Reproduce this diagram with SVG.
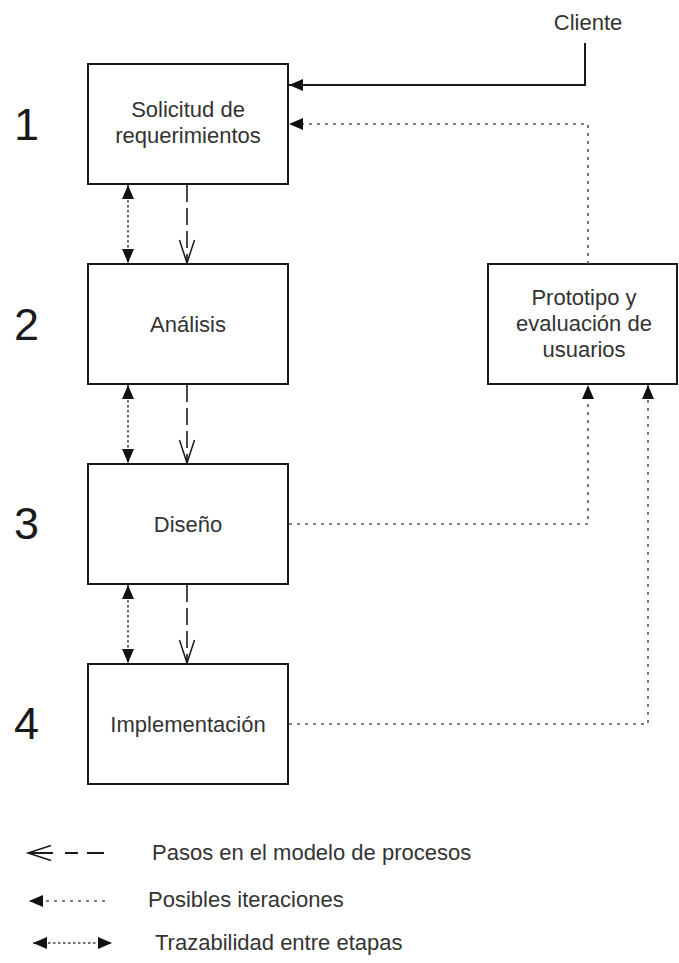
<svg xmlns="http://www.w3.org/2000/svg" width="679" height="963" viewBox="0 0 679 963">
  <style>
    .box { fill: #ffffff; stroke: #1a1a1a; stroke-width: 2; }
    .lbl { font-family: "Liberation Sans", Arial, sans-serif; font-size: 22px; fill: #333333; }
    .mid { text-anchor: middle; }
    .num { font-family: "Liberation Sans", Arial, sans-serif; font-size: 45px; fill: #1a1a1a; }
    .solid { fill: none; stroke: #1a1a1a; stroke-width: 2; }
    .iter { fill: none; stroke: #555555; stroke-width: 1.6; stroke-dasharray: 3 5; }
    .trace { fill: none; stroke: #444444; stroke-width: 1.6; stroke-dasharray: 2.5 2.5; }
    .dash { fill: none; stroke: #1a1a1a; stroke-width: 1.6; stroke-dasharray: 17 6; }
  </style>
  <defs>
    <marker id="tri" markerUnits="userSpaceOnUse" markerWidth="14" markerHeight="12" refX="14" refY="6" orient="auto-start-reverse" overflow="visible">
      <path d="M0,0 L14,6 L0,12 Z" fill="#111111"/>
    </marker>
    <marker id="vee" markerUnits="userSpaceOnUse" markerWidth="24" markerHeight="16" refX="23" refY="7.5" orient="auto-start-reverse" overflow="visible">
      <path d="M0,0 L23,7.5 L0,15" fill="none" stroke="#1a1a1a" stroke-width="1.5"/>
    </marker>
  </defs>

  <rect width="679" height="963" fill="#ffffff"/>

  <!-- stage numbers -->
  <g id="stage-numbers">
    <text class="num" x="14" y="140">1</text>
    <text class="num" x="14" y="340">2</text>
    <text class="num" x="14" y="539">3</text>
    <text class="num" x="14" y="739">4</text>
  </g>

  <g id="cliente">
    <text class="lbl mid" x="588" y="30">Cliente</text>
  </g>

  <g id="solicitud">
    <rect class="box" x="88" y="64" width="200" height="120"/>
    <text class="lbl mid" x="188" y="117">Solicitud de</text>
    <text class="lbl mid" x="188" y="143">requerimientos</text>
  </g>

  <g id="analisis">
    <rect class="box" x="88" y="264" width="200" height="120"/>
    <text class="lbl mid" x="188" y="332">Análisis</text>
  </g>

  <g id="diseno">
    <rect class="box" x="88" y="464" width="200" height="120"/>
    <text class="lbl mid" x="188" y="532">Diseño</text>
  </g>

  <g id="implementacion">
    <rect class="box" x="88" y="664" width="200" height="120"/>
    <text class="lbl mid" x="188" y="732">Implementación</text>
  </g>

  <g id="prototipo">
    <rect class="box" x="488" y="264" width="189" height="120"/>
    <text class="lbl mid" x="584" y="305">Prototipo y</text>
    <text class="lbl mid" x="584" y="331">evaluación de</text>
    <text class="lbl mid" x="584" y="357">usuarios</text>
  </g>

  <g id="connectors">
    <!-- client request -->
    <path class="solid" d="M585,43 V85 H289" marker-end="url(#tri)"/>
    <!-- prototype feedback to requirements -->
    <path class="iter" d="M588,264 V124 H289" marker-end="url(#tri)"/>
    <!-- design and implementation feed the prototype -->
    <path class="iter" d="M289,524 H588 V385" marker-end="url(#tri)"/>
    <path class="iter" d="M289,724 H648 V385" marker-end="url(#tri)"/>
    <!-- traceability between stages -->
    <path class="trace" d="M128,185 V263" marker-start="url(#tri)" marker-end="url(#tri)"/>
    <path class="trace" d="M128,385 V463" marker-start="url(#tri)" marker-end="url(#tri)"/>
    <path class="trace" d="M128,585 V663" marker-start="url(#tri)" marker-end="url(#tri)"/>
    <!-- process steps -->
    <path class="dash" d="M187,185 V263" marker-end="url(#vee)"/>
    <path class="dash" d="M187,385 V463" marker-end="url(#vee)"/>
    <path class="dash" d="M187,585 V663" marker-end="url(#vee)"/>
  </g>

  <g id="legend">
    <path class="solid" d="M104,853 H28" stroke-width="1.6" stroke-dasharray="17 9 13 12 25" marker-end="url(#vee)"/>
    <text class="lbl" x="152" y="860">Pasos en el modelo de procesos</text>
    <path class="iter" d="M105,901 H29" marker-end="url(#tri)"/>
    <text class="lbl" x="148" y="907">Posibles iteraciones</text>
    <path class="trace" d="M33,943 H112" marker-start="url(#tri)" marker-end="url(#tri)"/>
    <text class="lbl" x="155" y="950">Trazabilidad entre etapas</text>
  </g>
</svg>
